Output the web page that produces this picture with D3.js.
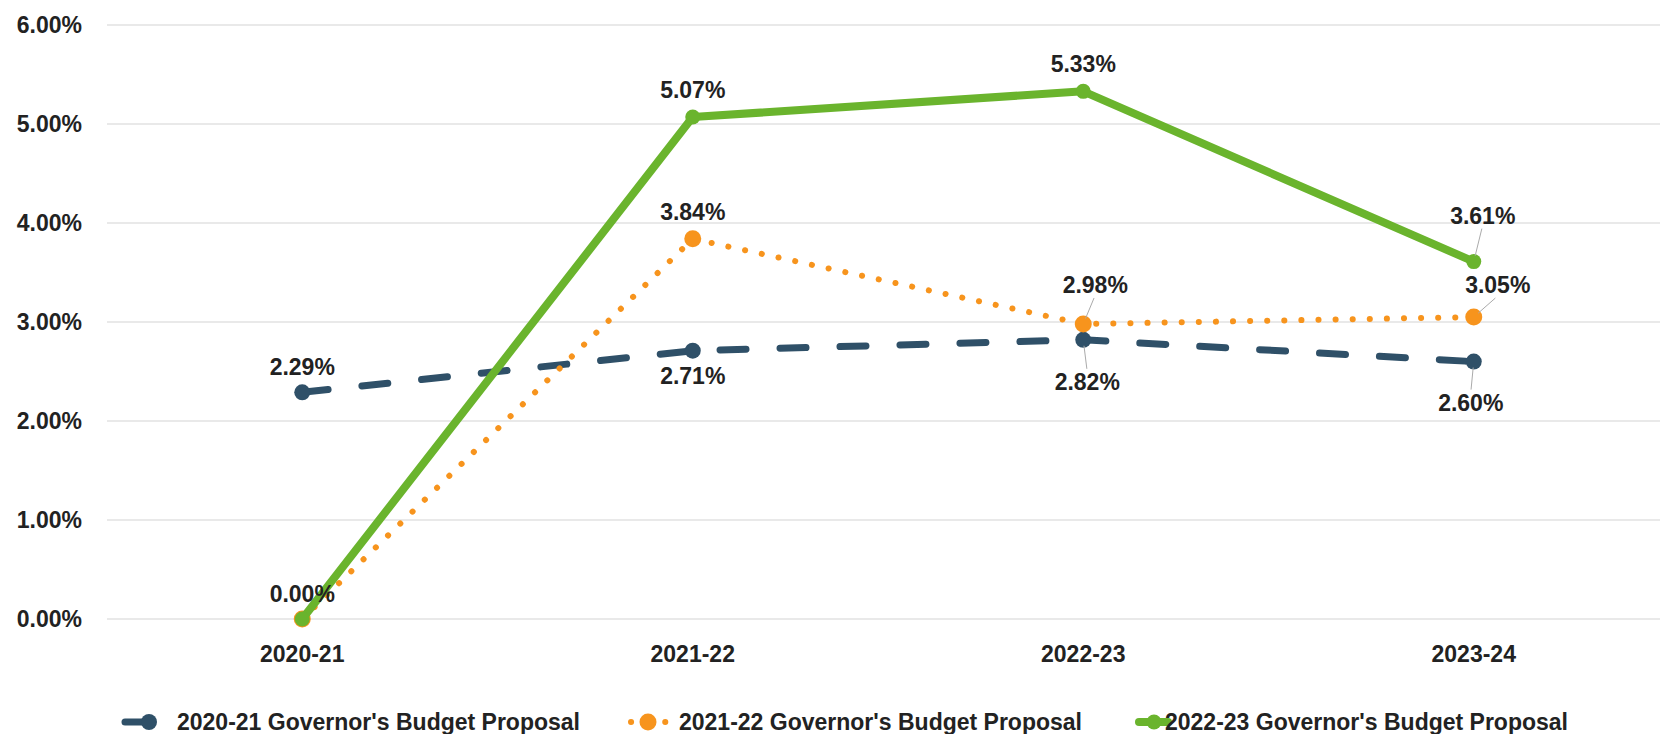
<!DOCTYPE html>
<html>
<head>
<meta charset="utf-8">
<script src="https://cdn.jsdelivr.net/npm/d3@7"></script>
<style>
  body { margin: 0; background: #fff; }
  text { font-family: 'Liberation Sans', Arial, sans-serif; font-weight: bold; fill: #222; }
</style>
</head>
<body>
<script>
// chart data
const years = ['2020-21', '2021-22', '2022-23', '2023-24'];
const yTicks = [0, 1, 2, 3, 4, 5, 6];
const seriesNames = [
  "2020-21 Governor's Budget Proposal",
  "2021-22 Governor's Budget Proposal",
  "2022-23 Governor's Budget Proposal"
];
const gov2020 = [2.29, 2.71, 2.82, 2.60];
const gov2021 = [0.00, 3.84, 2.98, 3.05];
const gov2022 = [0.00, 5.07, 5.33, 3.61];

// label placement per point: [dx, dy, leader?]; null = no label
const labelPos = [
  [[0, -25], [0, 25], [4, 42, true], [-3, 41, true]],
  [null, [0, -27], [12, -39, true], [24, -32, true]],
  [[0, -25], [0, -27], [0, -27], [9, -46, true]]
];

const width = 1660;
const height = 734;
const fmt = d => d3.format('.2f')(d) + '%';

const styles = [
  { color: '#2f5068', width: 7, dash: '26,34', cap: 'round', r: 8 },
  { color: '#f7941d', width: 6, dash: '0.1,17', cap: 'round', r: 8.5 },
  { color: '#6ab42d', width: 8, dash: null, cap: 'round', r: 7.5 }
];

const x = d3.scalePoint()
  .domain(years)
  .range([107, 1669])
  .padding(0.5);

const y = d3.scaleLinear()
  .domain([0, 6])
  .range([619, 25]);

const svg = d3.select('body')
  .append('svg')
  .attr('width', width)
  .attr('height', height);

// gridlines
svg.append('g')
  .selectAll('line')
  .data(yTicks)
  .enter().append('line')
    .attr('x1', 107)
    .attr('x2', 1660)
    .attr('y1', d => y(d))
    .attr('y2', d => y(d))
    .style('stroke', '#e2e2e2')
    .style('stroke-width', 1.5);

// y axis labels
svg.append('g')
  .selectAll('text')
  .data(yTicks)
  .enter().append('text')
    .attr('x', 82)
    .attr('y', d => y(d))
    .attr('dy', '0.35em')
    .attr('text-anchor', 'end')
    .style('font-size', '23px')
    .text(d => fmt(d));

// x axis labels
svg.append('g')
  .selectAll('text')
  .data(years)
  .enter().append('text')
    .attr('x', d => x(d))
    .attr('y', 654)
    .attr('dy', '0.35em')
    .attr('text-anchor', 'middle')
    .style('font-size', '23px')
    .text(d => d);

const allSeries = [gov2020, gov2021, gov2022];

const line = d3.line()
  .x((d, i) => x(years[i]))
  .y(d => y(d));

allSeries.forEach((vals, s) => {
  const st = styles[s];
  const g = svg.append('g').attr('class', 'series');

  g.append('path')
    .datum(vals)
    .attr('d', line)
    .style('fill', 'none')
    .style('stroke', st.color)
    .style('stroke-width', st.width)
    .style('stroke-linecap', st.cap)
    .style('stroke-linejoin', 'round')
    .style('stroke-dasharray', st.dash);

  g.selectAll('circle')
    .data(vals)
    .enter().append('circle')
      .attr('cx', (d, i) => x(years[i]))
      .attr('cy', d => y(d))
      .attr('r', st.r)
      .style('fill', st.color);
});

// data labels (drawn after all lines)
allSeries.forEach((vals, s) => {
  vals.forEach((v, i) => {
    const p = labelPos[s][i];
    if (!p) return;
    const px = x(years[i]);
    const py = y(v);
    const lx = px + p[0];
    const ly = py + p[1];
    if (p[2]) {
      const dir = Math.sign(p[1]);
      const sx = lx - dir * 0 + (p[0] === 0 ? 0 : -p[0] * 0.1);
      const sy = ly - dir * 13;
      const dx = px - sx, dy = py - sy;
      const len = Math.sqrt(dx * dx + dy * dy);
      svg.append('line')
        .attr('x1', sx)
        .attr('y1', sy)
        .attr('x2', px - dx / len * 6)
        .attr('y2', py - dy / len * 6)
        .style('stroke', '#aaa')
        .style('stroke-width', 1);
    }
    svg.append('text')
      .attr('x', lx)
      .attr('y', ly)
      .attr('dy', '0.35em')
      .attr('text-anchor', 'middle')
      .style('font-size', '23px')
      .text(fmt(v));
  });
});

// legend
const legendItems = [
  { x1: 125, x2: 175, cx: 149, tx: 177 },
  { x1: 631, x2: 666, cx: 648, tx: 679 },
  { x1: 1139, x2: 1168, cx: 1154, tx: 1165 }
];

const legend = svg.append('g').attr('class', 'legend');
legendItems.forEach((it, s) => {
  const st = styles[s];
  legend.append('line')
    .attr('x1', it.x1)
    .attr('x2', it.x2)
    .attr('y1', 722)
    .attr('y2', 722)
    .style('stroke', st.color)
    .style('stroke-width', st.width)
    .style('stroke-linecap', st.cap)
    .style('stroke-dasharray', st.dash);
  legend.append('circle')
    .attr('cx', it.cx)
    .attr('cy', 722)
    .attr('r', st.r)
    .style('fill', st.color);
  legend.append('text')
    .attr('x', it.tx)
    .attr('y', 722)
    .attr('dy', '0.35em')
    .style('font-size', '23px')
    .text(seriesNames[s]);
});
</script>
</body>
</html>
